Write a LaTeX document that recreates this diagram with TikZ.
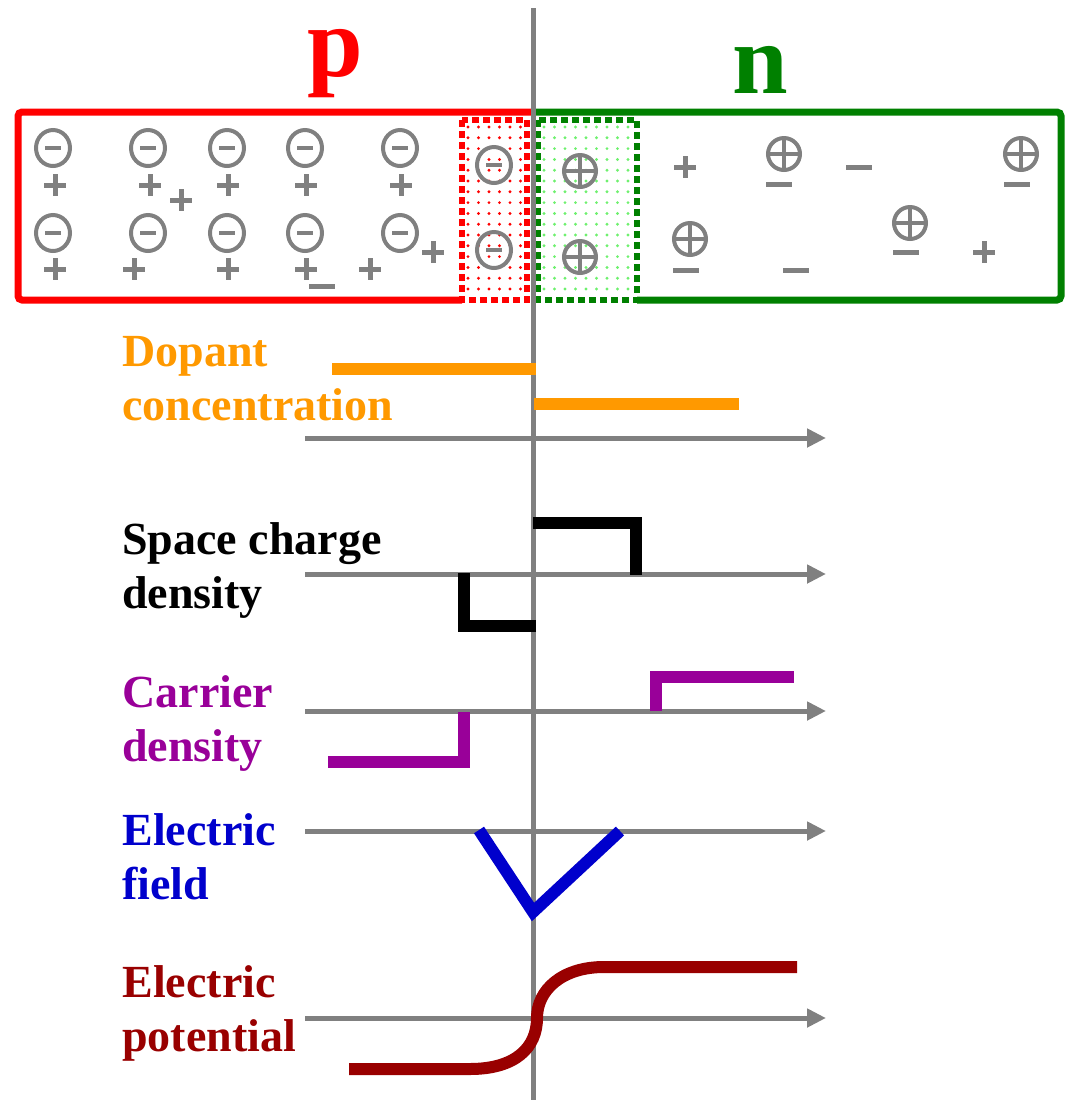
\documentclass[tikz,border=0pt]{standalone}
\usepackage{fontspec}
\setmainfont{Liberation Serif}
\usetikzlibrary{arrows.meta}

\definecolor{pred}{RGB}{255,0,0}
\definecolor{ngreen}{RGB}{0,128,0}
\definecolor{dotgreen}{RGB}{110,240,110}
\definecolor{dopcol}{RGB}{255,153,0}
\definecolor{carcol}{RGB}{153,0,153}
\definecolor{fieldcol}{RGB}{0,0,204}
\definecolor{potcol}{RGB}{153,0,0}
\definecolor{axgray}{RGB}{128,128,128}

\begin{document}
\begin{tikzpicture}[
  x=0.5pt,y=-0.5pt,
  lbl/.style={font=\fontsize{23}{27}\selectfont\bfseries,align=left,anchor=base west,inner sep=0pt},
  side/.style={font=\fontsize{50}{56}\selectfont\bfseries,anchor=base,inner sep=0pt},
  axis/.style={draw=axgray,line width=2.5pt,-{Triangle[length=9.5pt,width=9pt]}},
  sig/.style={line width=6pt},
  region/.style={line width=3.5pt,rounded corners=2pt},
  depl/.style={line width=3pt,dash pattern=on 3.5pt off 2pt},
  sym/.style={draw=axgray,line width=2pt},
  chg/.style={draw=axgray,line width=2.5pt},
  negion/.pic={\draw[sym] (0,0) ellipse [x radius=17,y radius=18]; \draw[sym] (-8,0) -- (8,0);},
  posion/.pic={\draw[sym] (0,0) circle [radius=16]; \draw[sym] (-16,0) -- (16,0) (0,-16) -- (0,16);},
  hole/.pic={\draw[chg] (-11,0) -- (11,0) (0,-11) -- (0,11);},
  elec/.pic={\draw[chg] (-13,0) -- (13,0);}
]
  \useasboundingbox (0,0) rectangle (1066,1100);

  % p and n sides
  \node[side,text=pred]   (plbl) at (335,76) {p};
  \node[side,text=ngreen] (nlbl) at (760,93) {n};

  \draw[region,pred]   (462,300) -- (18,300) -- (18,112) -- (533,112);
  \draw[region,ngreen] (533,112) -- (1061,112) -- (1061,300) -- (637,300);

  % depletion zone
  \foreach \i in {0,...,5}
    \foreach \j in {0,...,15}
      \fill[pred] (468+10.5*\i,127+10.8*\j) circle [radius=1.6];
  \foreach \i in {0,...,8}
    \foreach \j in {0,...,15}
      \fill[dotgreen] (544+10.5*\i,127+10.8*\j) circle [radius=1.6];
  \draw[depl,pred]   (462,120) rectangle (527,300);
  \draw[depl,ngreen] (538,120) rectangle (637,300);

  \foreach \x/\y in {53/148,148/148,227/148,305/148,400/148,
                     53/233,148/233,227/233,305/233,400/233,494/165,494/250}
    \pic at (\x,\y) {negion};
  \foreach \x/\y in {580/171,580/257,784/154,1021/154,690/239,910/223}
    \pic at (\x,\y) {posion};
  \foreach \x/\y in {55/185,150/185,181/200,228/185,306/185,401/185,
                     55/269,134/269,228/269,306/269,370/269,433/252,685/167,984/252}
    \pic at (\x,\y) {hole};
  \foreach \x/\y in {322/286,779/184,1017/184,686/270,796/270,906/252,859/167}
    \pic at (\x,\y) {elec};

  % junction line
  \coordinate (jtop) at (533,8);
  \coordinate (jbot) at (533,1100);
  \draw[axgray,line width=2.5pt] (jtop) -- (jbot);

  % axes
  \foreach \nm/\y in {dop/438,rho/574,car/711,fld/831,pot/1018}{
    \coordinate (\nm L) at (305,\y);
    \coordinate (\nm R) at (826,\y);
    \draw[axis] (\nm L) -- (\nm R);
  }

  \node[lbl,text=dopcol]   (ldop) at (122,420) {Dopant\\concentration};
  \node[lbl,text=black]    (lrho) at (122,608) {Space charge\\density};
  \node[lbl,text=carcol]   (lcar) at (122,761) {Carrier\\density};
  \node[lbl,text=fieldcol] (lfld) at (122,899) {Electric\\field};
  \node[lbl,text=potcol]   (lpot) at (122,1051) {Electric\\potential};

  \draw[sig,dopcol] (332,369) -- (536,369);
  \draw[sig,dopcol] (534,404) -- (739,404);

  \draw[sig,black] (533,523) -- (636,523) -- (636,575);
  \draw[sig,black] (536,626) -- (464,626) -- (464,573);

  \draw[sig,carcol] (328,762) -- (464,762) -- (464,712);
  \draw[sig,carcol] (656,711) -- (656,677) -- (794,677);

  \draw[sig,fieldcol] (479,830) -- (533,912) -- (620,831);

  \draw[sig,potcol] (349,1069) -- (470,1069)
    .. controls (515,1069) and (537,1048) .. (537,1018)
    .. controls (537,990) and (562,967) .. (604,967) -- (797,967);
\end{tikzpicture}
\end{document}
